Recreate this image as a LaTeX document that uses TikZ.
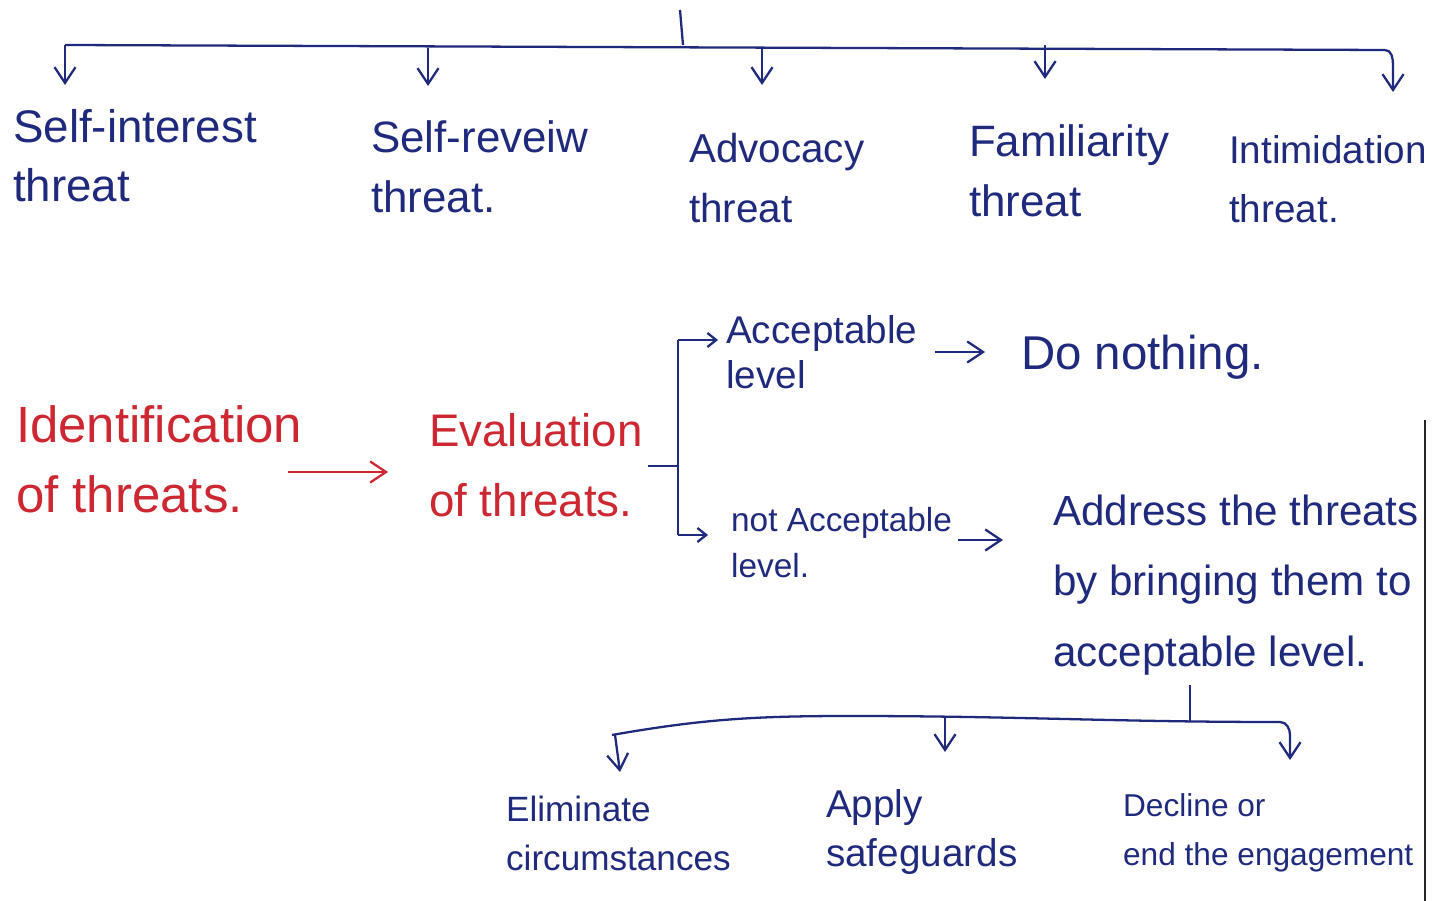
\documentclass[tikz,border=0pt]{standalone}
\usepackage{fontspec}
\setmainfont{Liberation Sans}
\usetikzlibrary{arrows.meta}
\definecolor{ink}{RGB}{32,42,125}
\definecolor{redink}{RGB}{205,40,50}
\tikzset{
  every picture/.style={line width=1.3pt},
  txt/.style={anchor=north west, inner sep=0pt, align=left, text=ink},
  toptxt/.style={txt, font=\fontsize{#1}{34}\selectfont},
  toptxt/.default=22,
  midtxt/.style={txt, font=\fontsize{#1}{26}\selectfont},
  midtxt/.default=20,
  redtxt/.style={txt, text=redink, font=\fontsize{#1}{40}\selectfont},
  redtxt/.default=26,
  bottxt/.style={txt, font=\fontsize{#1}{28}\selectfont},
  bottxt/.default=19,
  link/.style={draw=ink, line width=1.3pt},
  arr/.style={link, -{Straight Barb[length=9pt,width=12pt]}},
  sarr/.style={link, -{Straight Barb[length=5pt,width=8pt]}},
}
\begin{document}
\begin{tikzpicture}[x=0.02cm,y=-0.02cm]
\useasboundingbox (0,0) rectangle (1442,901);

% top branch
\coordinate (topin) at (680,10);
\coordinate (tophub) at (683,45);
\coordinate (b1) at (65,45);
\coordinate (b2) at (428,48);
\coordinate (b3) at (762,47);
\coordinate (b4) at (1045,45);
\coordinate (b5) at (1385,50);
\draw[link] (topin) -- (tophub);
\draw[link] (b1) -- (b5);
\node[toptxt=26] (t1) at (12,108) {Self-interest\\threat};
\node[toptxt=25] (t2) at (370,120) {Self-reveiw\\threat.};
\node[toptxt=23] (t3) at (688,132) {Advocacy\\threat};
\node[toptxt=25] (t4) at (968,124) {Familiarity\\threat};
\node[toptxt=22] (t5) at (1228,134) {Intimidation\\threat.};
\draw[arr] (b1) -- ++(0,40);
\draw[arr] (b2) -- ++(0,38);
\draw[arr] (b3) -- ++(0,38);
\draw[arr] (b4) -- ++(0,34);
\draw[arr] (b5) to[out=0,in=90] ++(8,15) -- ++(0,27);

% middle flow
\node[redtxt=29] (ident) at (15,404) {Identification\\of threats.};
\node[redtxt=26] (eval) at (428,412) {Evaluation\\of threats.};
\draw[arr, draw=redink] (288,472) -- (388,472);

\coordinate (ejoin) at (678,466);
\coordinate (etop) at (678,340);
\coordinate (ebot) at (678,535);
\draw[link] (eval.east |- ejoin) ++(4,0) -- (ejoin);
\draw[link] (etop) -- (ebot);
\node[midtxt=22] (acc) at (725,314) {Acceptable\\level};
\node[midtxt=19] (nacc) at (730,506) {not Acceptable\\level.};
\draw[sarr] (etop) -- (718,340);
\draw[sarr] (ebot) -- (708,535);

\node[midtxt=27] (nothing) at (1020,334) {Do nothing.};
\draw[arr] (935,352) -- (985,352);

\node[txt, font=\fontsize{24}{40}\selectfont] (addr) at (1052,494) {Address the threats\\by bringing them to\\acceptable level.};
\draw[arr] (958,540) -- (1003,540);

% bottom branch
\coordinate (bin) at (1190,685);
\coordinate (bhub) at (1190,722);
\coordinate (c1) at (615,735);
\coordinate (c2) at (945,718);
\coordinate (c3) at (1280,722);
\draw[link] (bin) -- (bhub);
\draw[link] (612,735) to[out=10,in=180] (850,716) to[out=0,in=180] (c3);
\draw[arr] (c1) -- (620,772);
\draw[arr] (c2) -- (945,752);
\draw[arr] (c3) to[out=0,in=90] (1290,735) -- (1290,760);

\node[bottxt=20] (elim) at (505,795) {Eliminate\\circumstances};
\node[bottxt=22] (apply) at (825,788) {Apply\\safeguards};
\node[bottxt=18] (decl) at (1122,792) {Decline or\\end the engagement};

% page edge
\draw[line width=1.6pt, black!85] (1425,420) -- (1425,901);
\end{tikzpicture}
\end{document}
